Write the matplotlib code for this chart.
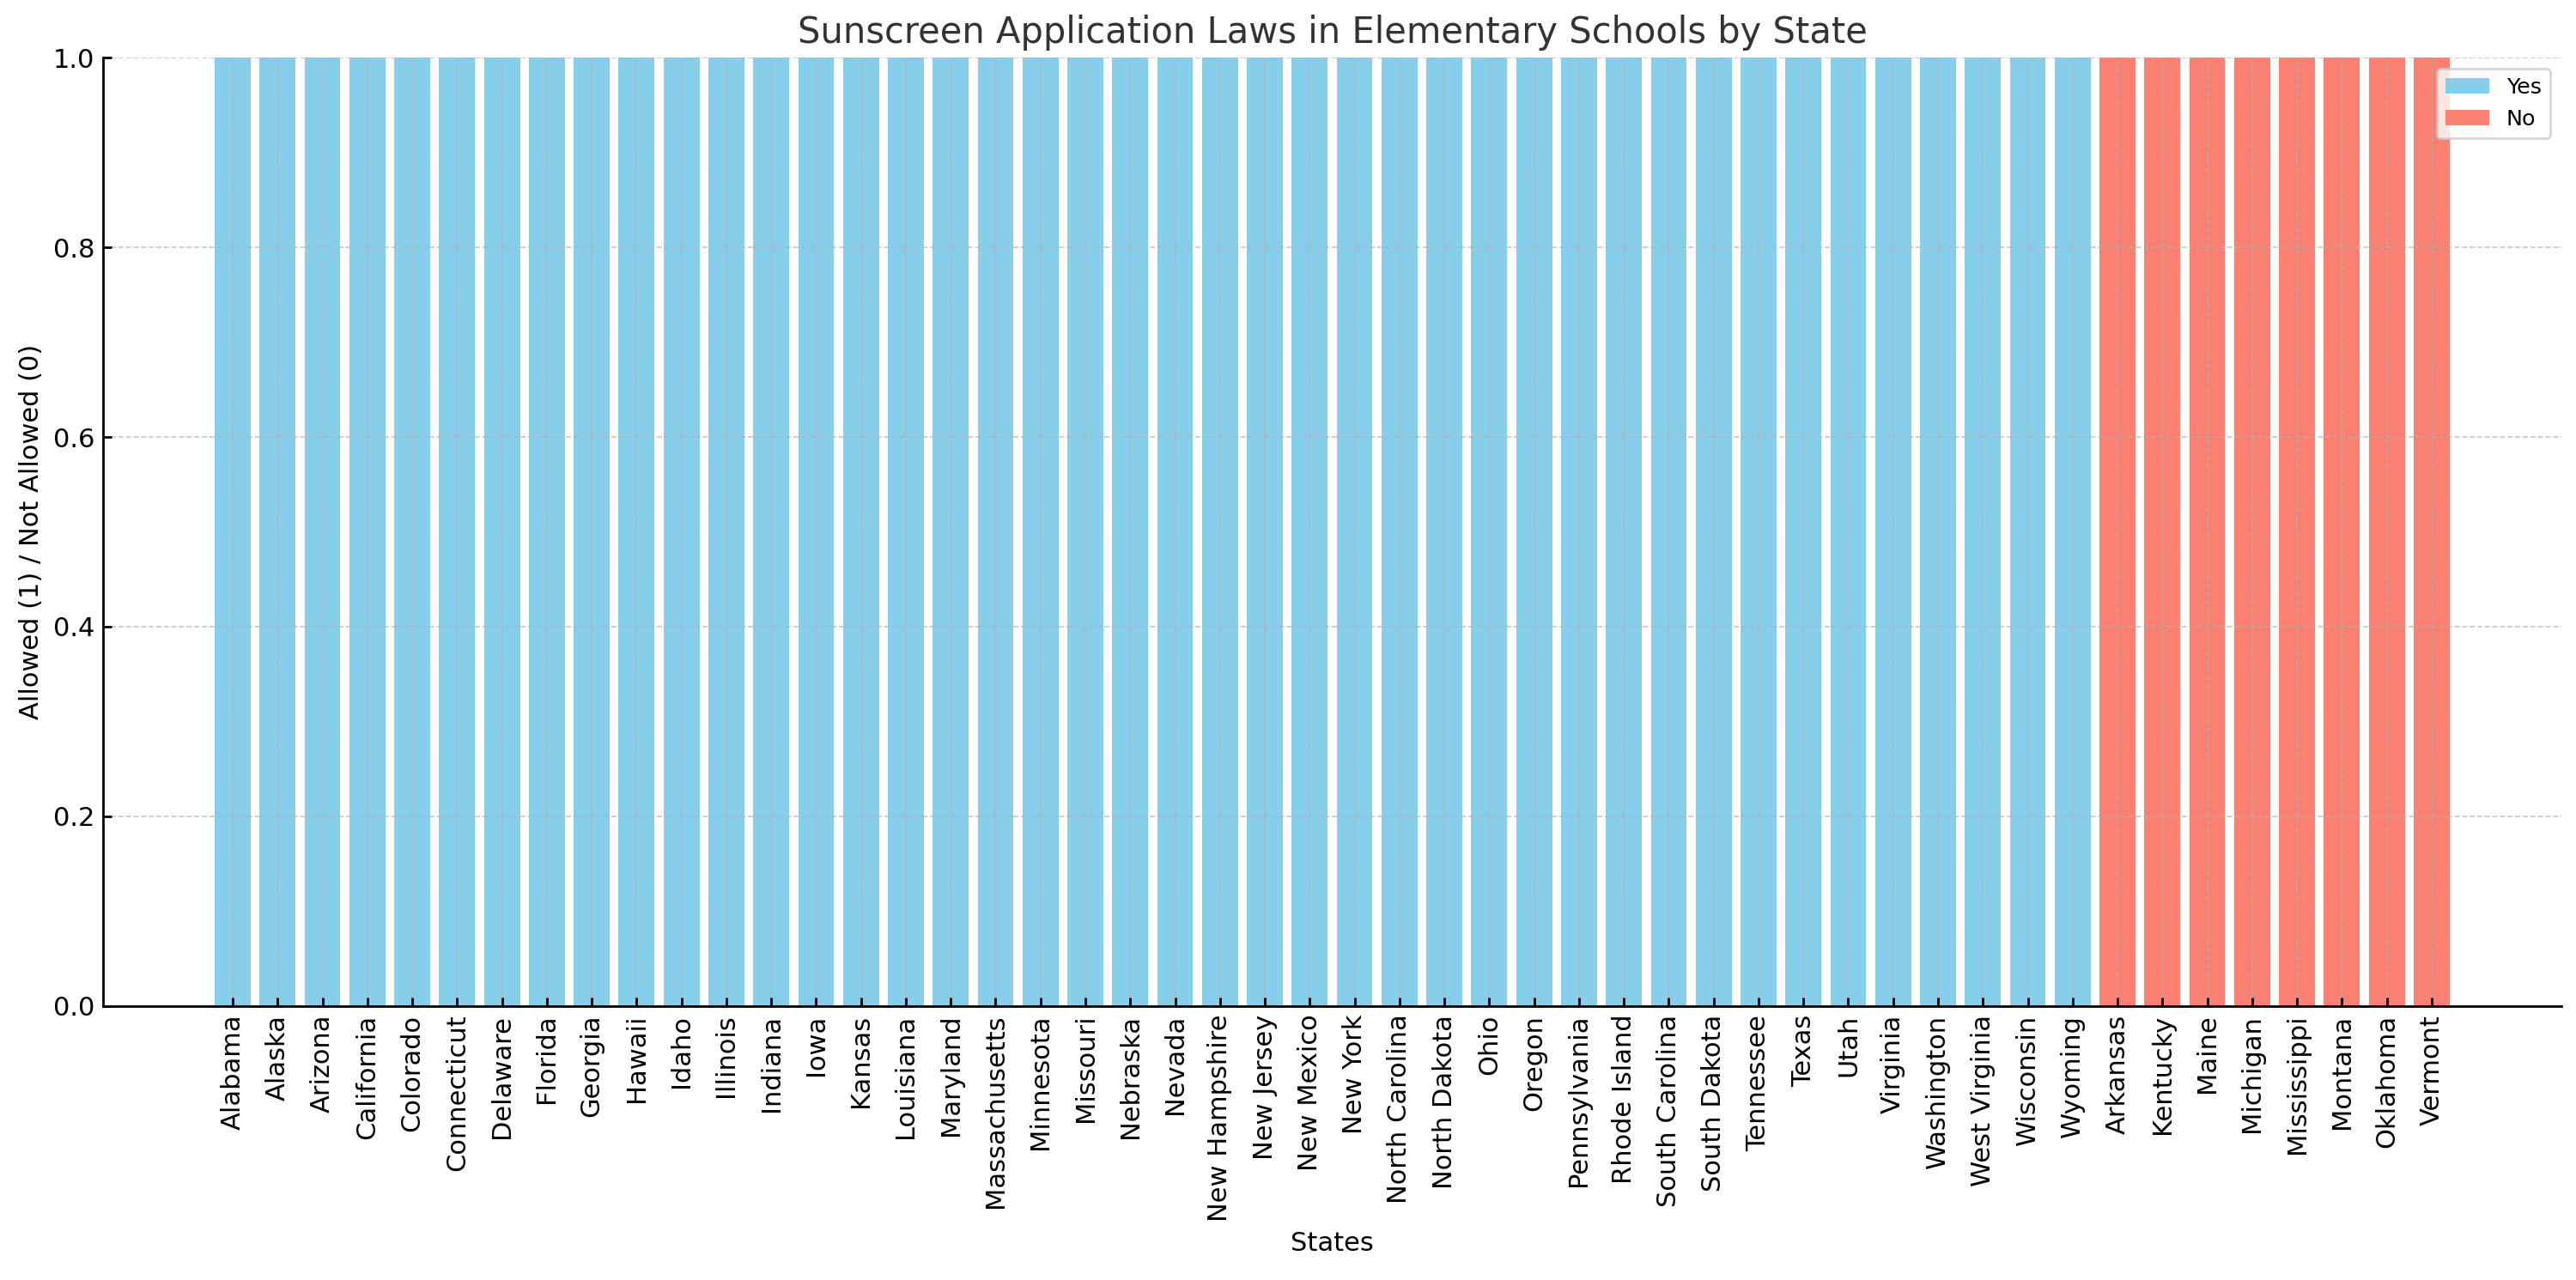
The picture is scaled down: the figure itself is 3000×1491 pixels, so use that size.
import matplotlib
matplotlib.use("Agg")
import matplotlib.pyplot as plt

# ---- data ----
yes_states = ["Alabama", "Alaska", "Arizona", "California", "Colorado", "Connecticut",
              "Delaware", "Florida", "Georgia", "Hawaii", "Idaho", "Illinois", "Indiana",
              "Iowa", "Kansas", "Louisiana", "Maryland", "Massachusetts", "Minnesota",
              "Missouri", "Nebraska", "Nevada", "New Hampshire", "New Jersey", "New Mexico",
              "New York", "North Carolina", "North Dakota", "Ohio", "Oregon", "Pennsylvania",
              "Rhode Island", "South Carolina", "South Dakota", "Tennessee", "Texas", "Utah",
              "Virginia", "Washington", "West Virginia", "Wisconsin", "Wyoming"]
yes_values = [1] * len(yes_states)

no_states = ["Arkansas", "Kentucky", "Maine", "Michigan", "Mississippi", "Montana",
             "Oklahoma", "Vermont"]
no_values = [1] * len(no_states)

yticks = [0.0, 0.2, 0.4, 0.6, 0.8, 1.0]

# ---- style ----
plt.rcParams['font.family'] = ['DejaVu Sans']
plt.rcParams['font.size'] = 11
plt.rcParams['xtick.direction'] = 'in'
plt.rcParams['ytick.direction'] = 'in'

fig = plt.figure(figsize=(15, 7.455), dpi=200)
ax = fig.add_axes([0.04, 0.214, 0.9543, 0.741])

ax.bar(yes_states, yes_values, color='skyblue', label='Yes')
ax.bar(no_states, no_values, color='salmon', label='No')

ax.set_ylim(0, 1)
ax.set_yticks(yticks)
ax.tick_params(axis='x', rotation=90, labelsize=11)
ax.tick_params(axis='y', labelsize=11)
ax.tick_params(width=1.0, length=3.5)

for s in ['top', 'right']:
    ax.spines[s].set_visible(False)
for s in ['left', 'bottom']:
    ax.spines[s].set_linewidth(1.0)

ax.grid(True, linestyle='--', linewidth=0.6, color='#b0b0b0', alpha=0.7)

ax.set_title('Sunscreen Application Laws in Elementary Schools by State',
             fontsize=15, color='#333333')
ax.set_xlabel('States', fontsize=11)
ax.set_ylabel('Allowed (1) / Not Allowed (0)', fontsize=11)
ax.legend(loc='upper right', fontsize='small')

fig.savefig('out.png', dpi=200)
